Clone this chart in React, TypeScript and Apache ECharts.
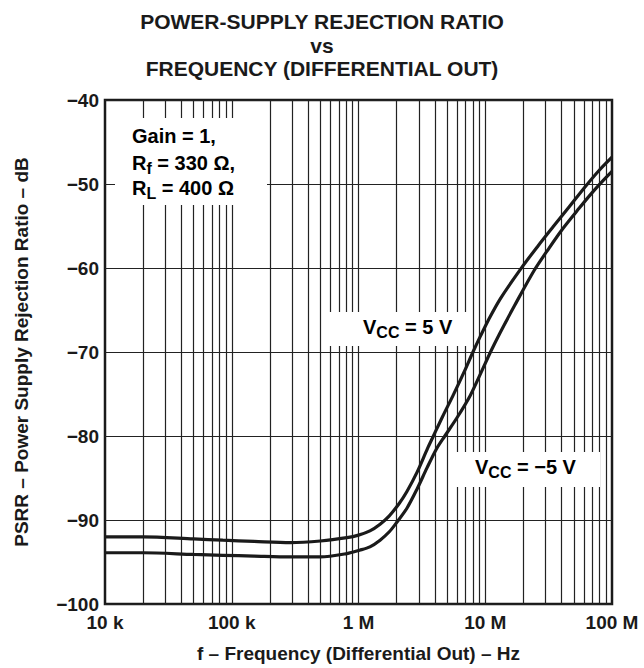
import React, { useEffect, useRef } from "react";
import * as echarts from "echarts";

// ---- Data ----
const freqVcc5 = [
  1e4, 2e4, 5e4, 8.5e4, 1.5e5, 2.9e5, 5e5, 8.1e5, 1e6, 1.23e6, 1.48e6, 1.75e6,
  2.1e6, 2.41e6, 2.9e6, 3.5e6, 3.9e6, 4.6e6, 5.6e6, 6.8e6, 8.0e6, 9.1e6,
  1.05e7, 1.31e7, 1.95e7, 2.6e7, 3.43e7, 4.6e7, 6.24e7, 8e7, 1e8,
];
const psrrVcc5 = [
  -92.0, -92.0, -92.25, -92.4, -92.55, -92.7, -92.5, -92.1, -91.8, -91.3,
  -90.5, -89.5, -88.0, -86.6, -84.3, -81.5, -80.0, -77.7, -75.1, -72.4, -70.0,
  -68.2, -66.3, -63.7, -59.9, -57.4, -55.1, -52.7, -50.2, -48.3, -46.8,
];

const freqVccM5 = [
  1e4, 2e4, 5e4, 8.5e4, 1.5e5, 2.9e5, 5e5, 8.1e5, 1.02e6, 1.23e6, 1.48e6,
  1.75e6, 2.0e6, 2.41e6, 2.9e6, 3.47e6, 4.1e6, 4.8e6, 6.0e6, 7.6e6, 9.3e6,
  1.1e7, 1.31e7, 1.7e7, 2.43e7, 3.2e7, 4.1e7, 5.5e7, 7e7, 8.5e7, 1e8,
];
const psrrVccM5 = [
  -93.9, -93.9, -94.1, -94.2, -94.3, -94.4, -94.4, -94.0, -93.6, -93.2, -92.4,
  -91.4, -90.3, -88.6, -86.3, -83.8, -81.6, -80.0, -77.8, -75.2, -72.4, -70.0,
  -67.7, -64.5, -60.3, -57.6, -55.3, -52.9, -51.0, -49.6, -48.5,
];

const xTickLabels = ["10 k", "100 k", "1 M", "10 M", "100 M"];
const decades = [1e4, 1e5, 1e6, 1e7];
const gridMultipliers = [1, 2, 3, 4, 5, 6, 7, 8, 9];

const titleLines = [
  "POWER-SUPPLY REJECTION RATIO",
  "vs",
  "FREQUENCY (DIFFERENTIAL OUT)",
];
const yTitle = "PSRR – Power Supply Rejection Ratio – dB";
const xTitle = "f – Frequency (Differential Out) – Hz";

const FONT = "'Liberation Sans', Arial, Helvetica, sans-serif";
const INK = "#1a1a1a";

export default function App() {
  const ref = useRef<HTMLDivElement>(null);

  useEffect(() => {
    document.body.style.margin = "0";
    if (!ref.current) return;
    const chart = echarts.init(ref.current, undefined, { renderer: "svg" });

    const gridFreqs: number[] = [];
    decades.forEach((d) =>
      gridMultipliers.forEach((m) => {
        const f = d * m;
        if (f > 1e4 && f < 1e8) gridFreqs.push(f);
      })
    );

    const mainTok = { fontSize: 20, fontWeight: "bold", fontFamily: FONT, color: INK };
    const subTok = {
      fontSize: 16,
      fontWeight: "bold",
      fontFamily: FONT,
      color: INK,
      padding: [11, 0, 0, 0],
    };

    const option: any = {
      animation: false,
      backgroundColor: "#ffffff",
      title: {
        text: titleLines.join("\n"),
        left: "center",
        top: 5,
        textStyle: {
          fontSize: 21,
          fontWeight: "bold",
          fontFamily: FONT,
          color: INK,
          lineHeight: 23.5,
        },
      },
      grid: {
        left: 105,
        top: 100,
        right: 32,
        bottom: 61,
        show: true,
        borderColor: INK,
        borderWidth: 2.5,
        backgroundColor: "transparent",
      },
      xAxis: {
        type: "log",
        logBase: 10,
        min: 1e4,
        max: 1e8,
        splitNumber: 4,
        name: xTitle,
        nameLocation: "middle",
        nameGap: 40,
        nameTextStyle: {
          fontSize: 19,
          fontWeight: "bold",
          fontFamily: FONT,
          color: INK,
        },
        axisLine: { show: false },
        axisTick: { show: false },
        splitLine: { show: false },
        axisLabel: {
          fontSize: 19,
          fontWeight: "bold",
          fontFamily: FONT,
          color: INK,
          margin: 9,
          showMinLabel: true,
          showMaxLabel: true,
          formatter: (v: number) => xTickLabels[Math.round(Math.log10(v)) - 4] ?? "",
        },
      },
      yAxis: {
        type: "value",
        min: -100,
        max: -40,
        interval: 10,
        name: yTitle,
        nameLocation: "middle",
        nameRotate: 90,
        nameGap: 74,
        nameTextStyle: {
          fontSize: 19,
          fontWeight: "bold",
          fontFamily: FONT,
          color: INK,
        },
        axisLine: { show: false },
        axisTick: { show: false },
        splitLine: { show: true, lineStyle: { color: "#222", width: 1.2 } },
        axisLabel: {
          fontSize: 19,
          fontWeight: "bold",
          fontFamily: FONT,
          color: INK,
          margin: 6,
          formatter: (v: number) => (v < 0 ? "\u2212" + Math.abs(v) : String(v)),
        },
      },
      series: [
        {
          name: "grid",
          type: "line",
          data: [],
          z: 1,
          silent: true,
          markLine: {
            z: 1,
            silent: true,
            symbol: ["none", "none"],
            label: { show: false },
            lineStyle: { color: "#222", width: 1.2, type: "solid" },
            data: gridFreqs.map((f) => ({ xAxis: f })),
          },
        },
        {
          name: "VCC = 5 V",
          type: "line",
          data: freqVcc5.map((f, i) => [f, psrrVcc5[i]]),
          showSymbol: false,
          smooth: 0.3,
          z: 20,
          lineStyle: { color: INK, width: 3.2 },
        },
        {
          name: "VCC = −5 V",
          type: "line",
          data: freqVccM5.map((f, i) => [f, psrrVccM5[i]]),
          showSymbol: false,
          smooth: 0.3,
          z: 20,
          lineStyle: { color: INK, width: 3.2 },
        },
      ],
      graphic: {
        elements: [
          { type: "rect", z: 10, silent: true, shape: { x: 115, y: 118, width: 152, height: 87 }, style: { fill: "#fff" } },
          { type: "rect", z: 10, silent: true, shape: { x: 322, y: 312, width: 148, height: 34 }, style: { fill: "#fff" } },
          { type: "rect", z: 10, silent: true, shape: { x: 450, y: 452, width: 150, height: 35 }, style: { fill: "#fff" } },
          {
            type: "text",
            z: 30,
            x: 132,
            y: 136,
            style: { text: "Gain = 1,", ...mainTok, verticalAlign: "middle", align: "left" },
          },
          {
            type: "text",
            z: 30,
            x: 132,
            y: 163,
            style: {
              text: "{m|R}{s|f}{m| = 330 Ω,}",
              rich: { m: mainTok, s: subTok },
              verticalAlign: "middle",
              align: "left",
            },
          },
          {
            type: "text",
            z: 30,
            x: 132,
            y: 188,
            style: {
              text: "{m|R}{s|L}{m| = 400 Ω}",
              rich: { m: mainTok, s: subTok },
              verticalAlign: "middle",
              align: "left",
            },
          },
          {
            type: "text",
            z: 30,
            x: 363,
            y: 327,
            style: {
              text: "{m|V}{s|CC}{m| = 5 V}",
              rich: { m: mainTok, s: subTok },
              verticalAlign: "middle",
              align: "left",
            },
          },
          {
            type: "text",
            z: 30,
            x: 475,
            y: 467,
            style: {
              text: "{m|V}{s|CC}{m| = \u22125 V}",
              rich: { m: mainTok, s: subTok },
              verticalAlign: "middle",
              align: "left",
            },
          },
        ],
      },
    };

    chart.setOption(option);
    return () => chart.dispose();
  }, []);

  return <div ref={ref} style={{ width: 644, height: 668 }} />;
}
